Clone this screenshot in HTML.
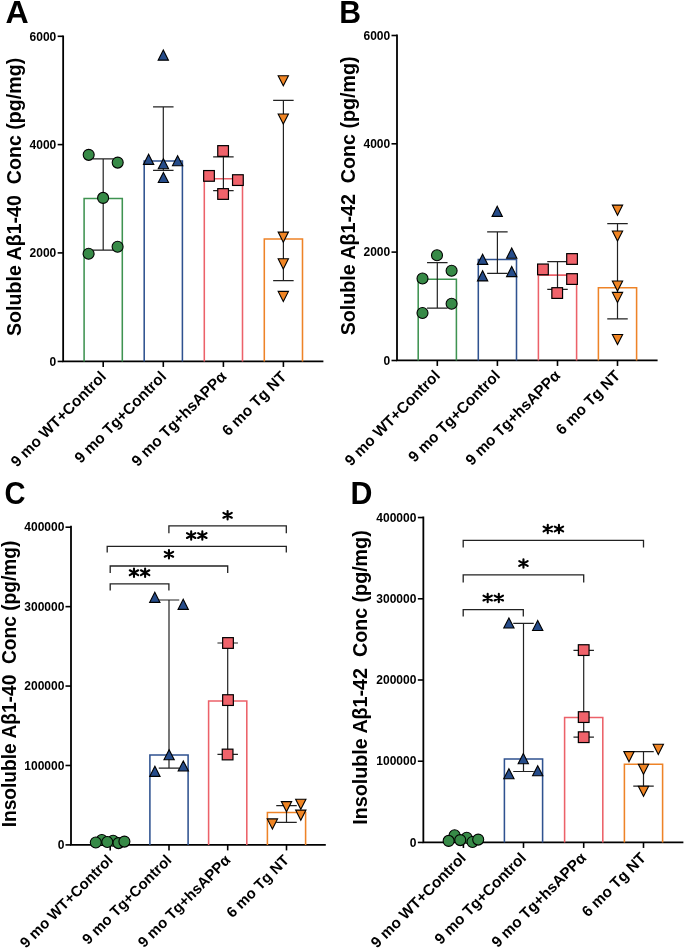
<!DOCTYPE html>
<html><head><meta charset="utf-8"><style>
html,body{margin:0;padding:0;background:#fff;}
svg{display:block;will-change:transform;}
text{font-family:"Liberation Sans",sans-serif;font-weight:bold;fill:#000;white-space:pre;}
.tk{font-size:12px;}
.xl{font-size:15.5px;}
.yt{font-size:19.5px;}
.pl{font-size:31.5px;}
</style></head><body>
<svg width="685" height="949" viewBox="0 0 685 949">
<path d="M63.15,35.5 V361.45 H323.4" fill="none" stroke="#000" stroke-width="1.8"/>
<path d="M57.65,361.45 H63.15" stroke="#000" stroke-width="1.6"/>
<text x="56.3" y="365.65" text-anchor="end" class="tk">0</text>
<path d="M57.65,252.9 H63.15" stroke="#000" stroke-width="1.6"/>
<text x="56.3" y="257.1" text-anchor="end" class="tk">2000</text>
<path d="M57.65,144.6 H63.15" stroke="#000" stroke-width="1.6"/>
<text x="56.3" y="148.8" text-anchor="end" class="tk">4000</text>
<path d="M57.65,36.3 H63.15" stroke="#000" stroke-width="1.6"/>
<text x="56.3" y="40.5" text-anchor="end" class="tk">6000</text>
<path d="M103.2,361.45 V366.95" stroke="#000" stroke-width="1.6"/>
<path d="M163.3,361.45 V366.95" stroke="#000" stroke-width="1.6"/>
<path d="M223.4,361.45 V366.95" stroke="#000" stroke-width="1.6"/>
<path d="M283.4,361.45 V366.95" stroke="#000" stroke-width="1.6"/>
<path d="M84.1,361.45 V198.4 H122.3 V361.45" fill="none" stroke="#3f9351" stroke-width="1.55"/>
<path d="M144.2,361.45 V160.9 H182.4 V361.45" fill="none" stroke="#2f5290" stroke-width="1.55"/>
<path d="M204.3,361.45 V178.8 H242.5 V361.45" fill="none" stroke="#ec6169" stroke-width="1.55"/>
<path d="M264.3,361.45 V238.9 H302.5 V361.45" fill="none" stroke="#ee8327" stroke-width="1.55"/>
<path d="M103.2,158.9 V250.2 M92.95,158.9 H113.45 M92.95,250.2 H113.45" fill="none" stroke="#222" stroke-width="1.2"/>
<path d="M163.3,106.8 V170.3 M153.05,106.8 H173.55 M153.05,170.3 H173.55" fill="none" stroke="#222" stroke-width="1.2"/>
<path d="M223.4,156.9 V190.6 M213.15,156.9 H233.65 M213.15,190.6 H233.65" fill="none" stroke="#222" stroke-width="1.2"/>
<path d="M283.4,100.3 V280.7 M273.15,100.3 H293.65 M273.15,280.7 H293.65" fill="none" stroke="#222" stroke-width="1.2"/>
<circle cx="88.7" cy="154.85" r="5.5" fill="#378a47" stroke="#000" stroke-width="1.1"/>
<circle cx="117.7" cy="162.6" r="5.5" fill="#378a47" stroke="#000" stroke-width="1.1"/>
<circle cx="103.1" cy="197.9" r="5.5" fill="#378a47" stroke="#000" stroke-width="1.1"/>
<circle cx="117.6" cy="246.8" r="5.5" fill="#378a47" stroke="#000" stroke-width="1.1"/>
<circle cx="88.6" cy="253.7" r="5.5" fill="#378a47" stroke="#000" stroke-width="1.1"/>
<polygon points="163.3,50.03 158.15,60.13 168.45,60.13" fill="#264c8a" stroke="#000" stroke-width="1.1"/>
<polygon points="148.6,154.28 143.45,164.38 153.75,164.38" fill="#264c8a" stroke="#000" stroke-width="1.1"/>
<polygon points="177.6,155.68 172.45,165.78 182.75,165.78" fill="#264c8a" stroke="#000" stroke-width="1.1"/>
<polygon points="163.4,158.68 158.25,168.78 168.55,168.78" fill="#264c8a" stroke="#000" stroke-width="1.1"/>
<polygon points="163.4,172.38 158.25,182.48 168.55,182.48" fill="#264c8a" stroke="#000" stroke-width="1.1"/>
<rect x="217.75" y="145.65" width="10.7" height="10.7" fill="#f0636b" stroke="#000" stroke-width="1.2"/>
<rect x="203.65" y="170.55" width="10.7" height="10.7" fill="#f0636b" stroke="#000" stroke-width="1.2"/>
<rect x="232.55" y="174.75" width="10.7" height="10.7" fill="#f0636b" stroke="#000" stroke-width="1.2"/>
<rect x="217.75" y="188.65" width="10.7" height="10.7" fill="#f0636b" stroke="#000" stroke-width="1.2"/>
<polygon points="278.15,75.72 288.45,75.72 283.3,85.82" fill="#f08524" stroke="#000" stroke-width="1.1"/>
<polygon points="278.15,114.02 288.45,114.02 283.3,124.12" fill="#f08524" stroke="#000" stroke-width="1.1"/>
<polygon points="278.15,232.12 288.45,232.12 283.3,242.22" fill="#f08524" stroke="#000" stroke-width="1.1"/>
<polygon points="278.15,258.82 288.45,258.82 283.3,268.92" fill="#f08524" stroke="#000" stroke-width="1.1"/>
<polygon points="278.15,291.42 288.45,291.42 283.3,301.52" fill="#f08524" stroke="#000" stroke-width="1.1"/>
<text transform="translate(107.10,377.60) rotate(-45)" text-anchor="end" class="xl" style="font-size:15.35px">9 mo WT+Control</text>
<text transform="translate(167.20,377.60) rotate(-45)" text-anchor="end" class="xl" style="font-size:15.35px">9 mo Tg+Control</text>
<text transform="translate(227.30,377.60) rotate(-45)" text-anchor="end" class="xl" style="font-size:15.35px">9 mo Tg+hsAPPα</text>
<text transform="translate(287.30,377.60) rotate(-45)" text-anchor="end" class="xl" style="font-size:15.35px">6 mo Tg NT</text>
<text transform="translate(20.5,196.925) rotate(-90) scale(1.0,1)" text-anchor="middle" class="yt" style="font-size:19.62px">Soluble Aβ1-40  Conc (pg/mg)</text>
<text transform="translate(5.4,22.6) scale(1.02,1)" class="pl">A</text>
<path d="M397.0,34.5 V360.45 H657.6" fill="none" stroke="#000" stroke-width="1.8"/>
<path d="M391.5,360.5 H397.0" stroke="#000" stroke-width="1.6"/>
<text x="390.2" y="364.7" text-anchor="end" class="tk">0</text>
<path d="M391.5,252.1 H397.0" stroke="#000" stroke-width="1.6"/>
<text x="390.2" y="256.3" text-anchor="end" class="tk">2000</text>
<path d="M391.5,143.8 H397.0" stroke="#000" stroke-width="1.6"/>
<text x="390.2" y="148.0" text-anchor="end" class="tk">4000</text>
<path d="M391.5,35.5 H397.0" stroke="#000" stroke-width="1.6"/>
<text x="390.2" y="39.7" text-anchor="end" class="tk">6000</text>
<path d="M437.3,360.45 V365.95" stroke="#000" stroke-width="1.6"/>
<path d="M497.4,360.45 V365.95" stroke="#000" stroke-width="1.6"/>
<path d="M557.5,360.45 V365.95" stroke="#000" stroke-width="1.6"/>
<path d="M617.5,360.45 V365.95" stroke="#000" stroke-width="1.6"/>
<path d="M418.2,360.45 V279.2 H456.4 V360.45" fill="none" stroke="#3f9351" stroke-width="1.55"/>
<path d="M478.3,360.45 V259.5 H516.5 V360.45" fill="none" stroke="#2f5290" stroke-width="1.55"/>
<path d="M538.4,360.45 V275.1 H576.6 V360.45" fill="none" stroke="#ec6169" stroke-width="1.55"/>
<path d="M598.4,360.45 V287.7 H636.6 V360.45" fill="none" stroke="#ee8327" stroke-width="1.55"/>
<path d="M437.3,262.7 V308.2 M427.05,262.7 H447.55 M427.05,308.2 H447.55" fill="none" stroke="#222" stroke-width="1.2"/>
<path d="M497.4,231.8 V273.3 M487.15,231.8 H507.65 M487.15,273.3 H507.65" fill="none" stroke="#222" stroke-width="1.2"/>
<path d="M557.5,261.6 V289.3 M547.25,261.6 H567.75 M547.25,289.3 H567.75" fill="none" stroke="#222" stroke-width="1.2"/>
<path d="M617.5,223.6 V318.9 M607.25,223.6 H627.75 M607.25,318.9 H627.75" fill="none" stroke="#222" stroke-width="1.2"/>
<circle cx="437" cy="255.2" r="5.5" fill="#378a47" stroke="#000" stroke-width="1.1"/>
<circle cx="451.6" cy="270.8" r="5.5" fill="#378a47" stroke="#000" stroke-width="1.1"/>
<circle cx="422.5" cy="278.5" r="5.5" fill="#378a47" stroke="#000" stroke-width="1.1"/>
<circle cx="451.6" cy="303.7" r="5.5" fill="#378a47" stroke="#000" stroke-width="1.1"/>
<circle cx="422.5" cy="313.0" r="5.5" fill="#378a47" stroke="#000" stroke-width="1.1"/>
<polygon points="497.2,206.28 492.05,216.38 502.35,216.38" fill="#264c8a" stroke="#000" stroke-width="1.1"/>
<polygon points="511.7,248.08 506.55,258.18 516.85,258.18" fill="#264c8a" stroke="#000" stroke-width="1.1"/>
<polygon points="482.6,254.28 477.45,264.38 487.75,264.38" fill="#264c8a" stroke="#000" stroke-width="1.1"/>
<polygon points="511.7,266.48 506.55,276.58 516.85,276.58" fill="#264c8a" stroke="#000" stroke-width="1.1"/>
<polygon points="482.6,270.78 477.45,280.88 487.75,280.88" fill="#264c8a" stroke="#000" stroke-width="1.1"/>
<rect x="566.7" y="253.65" width="10.7" height="10.7" fill="#f0636b" stroke="#000" stroke-width="1.2"/>
<rect x="537.6" y="264.05" width="10.7" height="10.7" fill="#f0636b" stroke="#000" stroke-width="1.2"/>
<rect x="566.7" y="273.7" width="10.7" height="10.7" fill="#f0636b" stroke="#000" stroke-width="1.2"/>
<rect x="551.85" y="287.7" width="10.7" height="10.7" fill="#f0636b" stroke="#000" stroke-width="1.2"/>
<polygon points="612.35,205.12 622.65,205.12 617.5,215.22" fill="#f08524" stroke="#000" stroke-width="1.1"/>
<polygon points="612.35,231.02 622.65,231.02 617.5,241.12" fill="#f08524" stroke="#000" stroke-width="1.1"/>
<polygon points="612.35,281.02 622.65,281.02 617.5,291.12" fill="#f08524" stroke="#000" stroke-width="1.1"/>
<polygon points="612.35,292.42 622.65,292.42 617.5,302.52" fill="#f08524" stroke="#000" stroke-width="1.1"/>
<polygon points="612.35,334.52 622.65,334.52 617.5,344.62" fill="#f08524" stroke="#000" stroke-width="1.1"/>
<text transform="translate(441.00,376.60) rotate(-45)" text-anchor="end" class="xl" style="font-size:15.35px">9 mo WT+Control</text>
<text transform="translate(501.10,376.60) rotate(-45)" text-anchor="end" class="xl" style="font-size:15.35px">9 mo Tg+Control</text>
<text transform="translate(561.20,376.60) rotate(-45)" text-anchor="end" class="xl" style="font-size:15.35px">9 mo Tg+hsAPPα</text>
<text transform="translate(621.20,376.60) rotate(-45)" text-anchor="end" class="xl" style="font-size:15.35px">6 mo Tg NT</text>
<text transform="translate(354.6,195.9) rotate(-90) scale(1.0,1)" text-anchor="middle" class="yt" style="font-size:19.67px">Soluble Aβ1-42  Conc (pg/mg)</text>
<text transform="translate(339.2,22.6) scale(0.958,1)" class="pl">B</text>
<path d="M71.0,525.8 V844.9 H325.8" fill="none" stroke="#000" stroke-width="1.8"/>
<path d="M65.5,844.9 H71.0" stroke="#000" stroke-width="1.6"/>
<text x="64.4" y="849.1" text-anchor="end" class="tk">0</text>
<path d="M65.5,765.48 H71.0" stroke="#000" stroke-width="1.6"/>
<text x="64.4" y="769.68" text-anchor="end" class="tk">100000</text>
<path d="M65.5,686.06 H71.0" stroke="#000" stroke-width="1.6"/>
<text x="64.4" y="690.26" text-anchor="end" class="tk">200000</text>
<path d="M65.5,606.64 H71.0" stroke="#000" stroke-width="1.6"/>
<text x="64.4" y="610.84" text-anchor="end" class="tk">300000</text>
<path d="M65.5,527.22 H71.0" stroke="#000" stroke-width="1.6"/>
<text x="64.4" y="531.42" text-anchor="end" class="tk">400000</text>
<path d="M110.2,844.9 V850.4" stroke="#000" stroke-width="1.6"/>
<path d="M169.0,844.9 V850.4" stroke="#000" stroke-width="1.6"/>
<path d="M227.7,844.9 V850.4" stroke="#000" stroke-width="1.6"/>
<path d="M286.5,844.9 V850.4" stroke="#000" stroke-width="1.6"/>
<path d="M149.9,844.9 V754.9 H188.1 V844.9" fill="none" stroke="#2f5290" stroke-width="1.55"/>
<path d="M208.6,844.9 V701 H246.8 V844.9" fill="none" stroke="#ec6169" stroke-width="1.55"/>
<path d="M267.4,844.9 V812.5 H305.6 V844.9" fill="none" stroke="#ee8327" stroke-width="1.55"/>
<path d="M169.0,600 V768.1 M158.75,600 H179.25 M158.75,768.1 H179.25" fill="none" stroke="#222" stroke-width="1.2"/>
<path d="M227.7,643 V754.4 M217.45,643 H237.95 M217.45,754.4 H237.95" fill="none" stroke="#222" stroke-width="1.2"/>
<path d="M286.5,805.6 V822.4 M276.25,805.6 H296.75 M276.25,822.4 H296.75" fill="none" stroke="#222" stroke-width="1.2"/>
<circle cx="101.8" cy="840" r="5.5" fill="#378a47" stroke="#000" stroke-width="1.1"/>
<circle cx="113.1" cy="840.7" r="5.5" fill="#378a47" stroke="#000" stroke-width="1.1"/>
<circle cx="95.8" cy="842.5" r="5.5" fill="#378a47" stroke="#000" stroke-width="1.1"/>
<circle cx="107.3" cy="842" r="5.5" fill="#378a47" stroke="#000" stroke-width="1.1"/>
<circle cx="118.5" cy="843.1" r="5.5" fill="#378a47" stroke="#000" stroke-width="1.1"/>
<circle cx="124.4" cy="841.6" r="5.5" fill="#378a47" stroke="#000" stroke-width="1.1"/>
<polygon points="154.8,592.28 149.65,602.38 159.95,602.38" fill="#264c8a" stroke="#000" stroke-width="1.1"/>
<polygon points="183.2,599.28 178.05,609.38 188.35,609.38" fill="#264c8a" stroke="#000" stroke-width="1.1"/>
<polygon points="169.1,749.68 163.95,759.78 174.25,759.78" fill="#264c8a" stroke="#000" stroke-width="1.1"/>
<polygon points="183.3,760.88 178.15,770.98 188.45,770.98" fill="#264c8a" stroke="#000" stroke-width="1.1"/>
<polygon points="154.9,766.28 149.75,776.38 160.05,776.38" fill="#264c8a" stroke="#000" stroke-width="1.1"/>
<rect x="222.65" y="637.65" width="10.7" height="10.7" fill="#f0636b" stroke="#000" stroke-width="1.2"/>
<rect x="222.65" y="694.75" width="10.7" height="10.7" fill="#f0636b" stroke="#000" stroke-width="1.2"/>
<rect x="222.25" y="749.15" width="10.7" height="10.7" fill="#f0636b" stroke="#000" stroke-width="1.2"/>
<polygon points="295.65,799.22 305.95,799.22 300.8,809.32" fill="#f08524" stroke="#000" stroke-width="1.1"/>
<polygon points="281.35,801.62 291.65,801.62 286.5,811.72" fill="#f08524" stroke="#000" stroke-width="1.1"/>
<polygon points="295.65,810.12 305.95,810.12 300.8,820.22" fill="#f08524" stroke="#000" stroke-width="1.1"/>
<polygon points="267.25,818.92 277.55,818.92 272.4,829.02" fill="#f08524" stroke="#000" stroke-width="1.1"/>
<path d="M110.2,590.5 V583.9 H168.9 V590.5" fill="none" stroke="#222" stroke-width="1.3"/>
<path d="M133.98,568.50 V576.90 M129.77,575.12 L138.18,570.28 M129.77,570.28 L138.18,575.12 " stroke="#000" stroke-width="2.1" stroke-linecap="round" fill="none"/>
<path d="M145.12,568.50 V576.90 M140.92,575.12 L149.33,570.28 M140.92,570.28 L149.33,575.12 " stroke="#000" stroke-width="2.1" stroke-linecap="round" fill="none"/>
<path d="M110.2,573 V566 H227.7 V573" fill="none" stroke="#222" stroke-width="1.3"/>
<path d="M168.95,550.10 V558.50 M164.75,556.72 L173.15,551.88 M164.75,551.88 L173.15,556.72 " stroke="#000" stroke-width="2.1" stroke-linecap="round" fill="none"/>
<path d="M107.2,552.6 V546.4 H286.3 V552.6" fill="none" stroke="#222" stroke-width="1.3"/>
<path d="M191.18,531.40 V539.80 M186.97,538.02 L195.38,533.18 M186.97,533.18 L195.38,538.02 " stroke="#000" stroke-width="2.1" stroke-linecap="round" fill="none"/>
<path d="M202.32,531.40 V539.80 M198.12,538.02 L206.53,533.18 M198.12,533.18 L206.53,538.02 " stroke="#000" stroke-width="2.1" stroke-linecap="round" fill="none"/>
<path d="M168.9,533.3 V525.9 H286.3 V533.3" fill="none" stroke="#222" stroke-width="1.3"/>
<path d="M227.60,511.10 V519.50 M223.40,517.72 L231.80,512.88 M223.40,512.88 L231.80,517.72 " stroke="#000" stroke-width="2.1" stroke-linecap="round" fill="none"/>
<text transform="translate(113.75,861.10) rotate(-45)" text-anchor="end" class="xl" style="font-size:14.95px">9 mo WT+Control</text>
<text transform="translate(172.55,861.10) rotate(-45)" text-anchor="end" class="xl" style="font-size:14.95px">9 mo Tg+Control</text>
<text transform="translate(231.25,861.10) rotate(-45)" text-anchor="end" class="xl" style="font-size:14.95px">9 mo Tg+hsAPPα</text>
<text transform="translate(290.05,861.10) rotate(-45)" text-anchor="end" class="xl" style="font-size:14.95px">6 mo Tg NT</text>
<text transform="translate(15.8,683.95) rotate(-90) scale(0.964,1)" text-anchor="middle" class="yt" style="font-size:19.9px">Insoluble Aβ1-40  Conc (pg/mg)</text>
<text transform="translate(4.4,503.6) scale(0.924,1)" class="pl">C</text>
<path d="M423.35,516.5 V842.45 H683.4" fill="none" stroke="#000" stroke-width="1.8"/>
<path d="M417.85,842.45 H423.35" stroke="#000" stroke-width="1.6"/>
<text x="416.4" y="846.65" text-anchor="end" class="tk">0</text>
<path d="M417.85,761.225 H423.35" stroke="#000" stroke-width="1.6"/>
<text x="416.4" y="765.425" text-anchor="end" class="tk">100000</text>
<path d="M417.85,680.0 H423.35" stroke="#000" stroke-width="1.6"/>
<text x="416.4" y="684.2" text-anchor="end" class="tk">200000</text>
<path d="M417.85,598.775 H423.35" stroke="#000" stroke-width="1.6"/>
<text x="416.4" y="602.975" text-anchor="end" class="tk">300000</text>
<path d="M417.85,517.55 H423.35" stroke="#000" stroke-width="1.6"/>
<text x="416.4" y="521.75" text-anchor="end" class="tk">400000</text>
<path d="M463.4,842.45 V847.95" stroke="#000" stroke-width="1.6"/>
<path d="M523.5,842.45 V847.95" stroke="#000" stroke-width="1.6"/>
<path d="M583.7,842.45 V847.95" stroke="#000" stroke-width="1.6"/>
<path d="M643.5,842.45 V847.95" stroke="#000" stroke-width="1.6"/>
<path d="M504.4,842.45 V759 H542.6 V842.45" fill="none" stroke="#2f5290" stroke-width="1.55"/>
<path d="M564.6,842.45 V717.5 H602.8 V842.45" fill="none" stroke="#ec6169" stroke-width="1.55"/>
<path d="M624.4,842.45 V764.3 H662.6 V842.45" fill="none" stroke="#ee8327" stroke-width="1.55"/>
<path d="M523.5,623.4 V771.5 M513.25,623.4 H533.75 M513.25,771.5 H533.75" fill="none" stroke="#222" stroke-width="1.2"/>
<path d="M583.7,650.4 V737.1 M573.45,650.4 H593.95 M573.45,737.1 H593.95" fill="none" stroke="#222" stroke-width="1.2"/>
<path d="M643.5,751.6 V786.2 M633.25,751.6 H653.75 M633.25,786.2 H653.75" fill="none" stroke="#222" stroke-width="1.2"/>
<circle cx="454.6" cy="835.2" r="5.5" fill="#378a47" stroke="#000" stroke-width="1.1"/>
<circle cx="466.7" cy="837.8" r="5.5" fill="#378a47" stroke="#000" stroke-width="1.1"/>
<circle cx="448.65" cy="840.9" r="5.5" fill="#378a47" stroke="#000" stroke-width="1.1"/>
<circle cx="460.25" cy="840.1" r="5.5" fill="#378a47" stroke="#000" stroke-width="1.1"/>
<circle cx="472.5" cy="842" r="5.5" fill="#378a47" stroke="#000" stroke-width="1.1"/>
<circle cx="478.2" cy="839.6" r="5.5" fill="#378a47" stroke="#000" stroke-width="1.1"/>
<polygon points="508.9,617.88 503.75,627.98 514.05,627.98" fill="#264c8a" stroke="#000" stroke-width="1.1"/>
<polygon points="537.7,620.38 532.55,630.48 542.85,630.48" fill="#264c8a" stroke="#000" stroke-width="1.1"/>
<polygon points="523.3,753.58 518.15,763.68 528.45,763.68" fill="#264c8a" stroke="#000" stroke-width="1.1"/>
<polygon points="537.7,765.68 532.55,775.78 542.85,775.78" fill="#264c8a" stroke="#000" stroke-width="1.1"/>
<polygon points="508.9,768.68 503.75,778.78 514.05,778.78" fill="#264c8a" stroke="#000" stroke-width="1.1"/>
<rect x="578.35" y="644.75" width="10.7" height="10.7" fill="#f0636b" stroke="#000" stroke-width="1.2"/>
<rect x="578.35" y="711.75" width="10.7" height="10.7" fill="#f0636b" stroke="#000" stroke-width="1.2"/>
<rect x="578.35" y="731.85" width="10.7" height="10.7" fill="#f0636b" stroke="#000" stroke-width="1.2"/>
<polygon points="653.15,744.32 663.45,744.32 658.3,754.42" fill="#f08524" stroke="#000" stroke-width="1.1"/>
<polygon points="623.85,751.62 634.15,751.62 629,761.72" fill="#f08524" stroke="#000" stroke-width="1.1"/>
<polygon points="638.35,764.22 648.65,764.22 643.5,774.32" fill="#f08524" stroke="#000" stroke-width="1.1"/>
<polygon points="638.35,786.22 648.65,786.22 643.5,796.32" fill="#f08524" stroke="#000" stroke-width="1.1"/>
<path d="M463.2,616.4 V609.7 H523.3 V616.4" fill="none" stroke="#222" stroke-width="1.3"/>
<path d="M487.68,593.90 V602.30 M483.47,600.52 L491.88,595.68 M483.47,595.68 L491.88,600.52 " stroke="#000" stroke-width="2.1" stroke-linecap="round" fill="none"/>
<path d="M498.82,593.90 V602.30 M494.62,600.52 L503.03,595.68 M494.62,595.68 L503.03,600.52 " stroke="#000" stroke-width="2.1" stroke-linecap="round" fill="none"/>
<path d="M463.2,582.5 V574.9 H583.7 V582.5" fill="none" stroke="#222" stroke-width="1.3"/>
<path d="M523.45,559.30 V567.70 M519.25,565.92 L527.65,561.08 M519.25,561.08 L527.65,565.92 " stroke="#000" stroke-width="2.1" stroke-linecap="round" fill="none"/>
<path d="M463.2,547.4 V540.4 H643.5 V547.4" fill="none" stroke="#222" stroke-width="1.3"/>
<path d="M547.77,524.80 V533.20 M543.57,531.42 L551.98,526.58 M543.57,526.58 L551.98,531.42 " stroke="#000" stroke-width="2.1" stroke-linecap="round" fill="none"/>
<path d="M558.93,524.80 V533.20 M554.72,531.42 L563.13,526.58 M554.72,526.58 L563.13,531.42 " stroke="#000" stroke-width="2.1" stroke-linecap="round" fill="none"/>
<text transform="translate(466.85,858.95) rotate(-45)" text-anchor="end" class="xl" style="font-size:15.3px">9 mo WT+Control</text>
<text transform="translate(526.95,858.95) rotate(-45)" text-anchor="end" class="xl" style="font-size:15.3px">9 mo Tg+Control</text>
<text transform="translate(587.15,858.95) rotate(-45)" text-anchor="end" class="xl" style="font-size:15.3px">9 mo Tg+hsAPPα</text>
<text transform="translate(646.95,858.95) rotate(-45)" text-anchor="end" class="xl" style="font-size:15.3px">6 mo Tg NT</text>
<text transform="translate(366.8,677.5) rotate(-90) scale(1.0,1)" text-anchor="middle" class="yt" style="font-size:19.68px">Insoluble Aβ1-42  Conc (pg/mg)</text>
<text transform="translate(350.6,503.6) scale(0.963,1)" class="pl">D</text>
</svg>
</body></html>
